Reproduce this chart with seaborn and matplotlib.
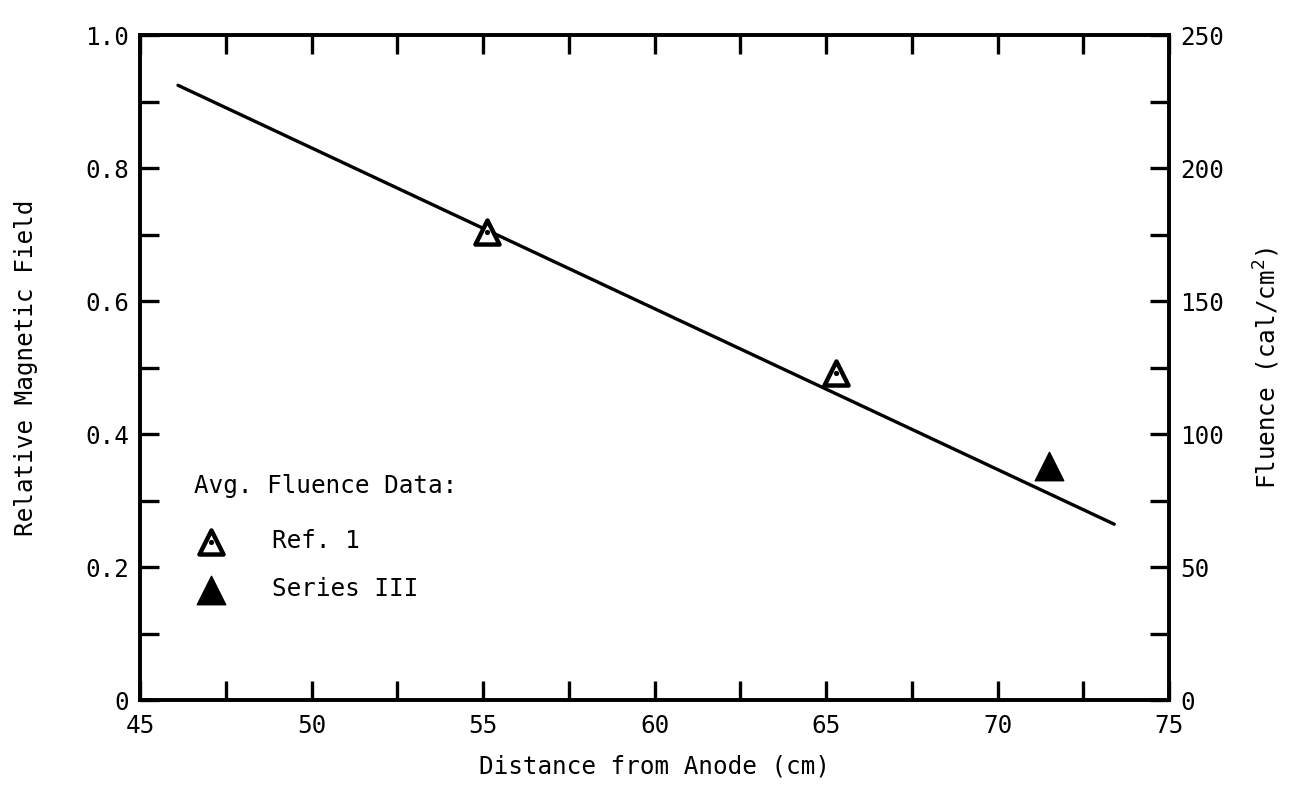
import matplotlib
matplotlib.use("Agg")
import matplotlib.pyplot as plt
import seaborn as sns
import pandas as pd
from matplotlib.ticker import MultipleLocator, FuncFormatter
from matplotlib.legend_handler import HandlerTuple

# ---- data ----
line_x = [46.1, 73.4]
line_field = [0.925, 0.265]

ref1_x = [55.1, 65.3]
ref1_fluence = [176.0, 123.0]

series3_x = [71.5]
series3_fluence = [88.0]

sns.set_style("ticks")
plt.rcParams['font.family'] = ['DejaVu Sans Mono', 'DejaVu Sans']
plt.rcParams['text.color'] = 'black'
plt.rcParams['axes.labelcolor'] = 'black'

fig = plt.figure(figsize=(12.99, 7.87), dpi=100)
ax = fig.add_axes([0.108, 0.11, 0.792, 0.845])

sns.lineplot(x=line_x, y=line_field, ax=ax, color='black', linewidth=2.4)
ax.set_xlim(45, 75)
ax.set_ylim(0, 1.0)

ax2 = ax.twinx()
ax2.set_ylim(0, 250)

df_ref = pd.DataFrame({'x': ref1_x, 'y': ref1_fluence})
df_s3 = pd.DataFrame({'x': series3_x, 'y': series3_fluence})
sns.scatterplot(data=df_ref, x='x', y='y', ax=ax2, marker='^', s=300,
                facecolor='white', edgecolor='black', linewidth=3.2, zorder=5)
sns.scatterplot(data=df_ref, x='x', y='y', ax=ax2, marker='o', s=14,
                color='black', linewidth=0, zorder=6)
sns.scatterplot(data=df_s3, x='x', y='y', ax=ax2, marker='^', s=420,
                color='black', edgecolor='black', linewidth=1, zorder=5)
ax2.set_xlim(45, 75)

for a in (ax, ax2):
    for s in a.spines.values():
        s.set_linewidth(2.6)
        s.set_color('black')

fs = 17.5
ax.xaxis.set_major_locator(MultipleLocator(5))
ax.xaxis.set_minor_locator(MultipleLocator(2.5))
ax.tick_params(axis='x', which='both', direction='in', length=14, width=2.4,
               top=True, bottom=True, labelsize=fs, pad=10, colors='black')
ax.yaxis.set_major_locator(MultipleLocator(0.2))
ax.yaxis.set_minor_locator(MultipleLocator(0.1))
ax.yaxis.set_major_formatter(FuncFormatter(lambda v, p: '0' if abs(v) < 1e-9 else f'{v:.1f}'))
ax.tick_params(axis='y', which='both', direction='in', length=14, width=2.4,
               left=True, right=False, labelsize=fs, pad=8, colors='black')
ax2.yaxis.set_major_locator(MultipleLocator(50))
ax2.yaxis.set_minor_locator(MultipleLocator(25))
ax2.tick_params(axis='y', which='both', direction='in', length=14, width=2.4,
                right=True, left=False, labelsize=fs, pad=8, colors='black')

ax.set_xlabel('Distance from Anode (cm)', fontsize=fs, labelpad=12)
ax.set_ylabel('Relative Magnetic Field', fontsize=fs, labelpad=34)
ax2.set_ylabel('Fluence (cal/cm$^2$)', fontsize=fs, labelpad=20)
ax2.set_xlabel('')

# legend
h_open = ax.scatter([], [], marker='^', s=300, facecolor='white', edgecolor='black', linewidths=3.2)
h_dot = ax.scatter([], [], marker='o', s=14, color='black', linewidths=0)
h_fill = ax.scatter([], [], marker='^', s=420, color='black')
leg = ax2.legend([(h_open, h_dot), h_fill], ['Ref. 1', 'Series III'],
                 handler_map={tuple: HandlerTuple(ndivide=1, pad=0)},
                 title='Avg. Fluence Data:', loc='upper left',
                 bbox_to_anchor=(0.052, 0.34), frameon=False, fontsize=fs,
                 title_fontsize=fs, handletextpad=1.8, labelspacing=1.0,
                 handlelength=1.4, borderaxespad=0, borderpad=0)
leg._legend_box.align = 'left'
leg._legend_box.sep = 22

fig.savefig('out.png', dpi=100, facecolor='white')
